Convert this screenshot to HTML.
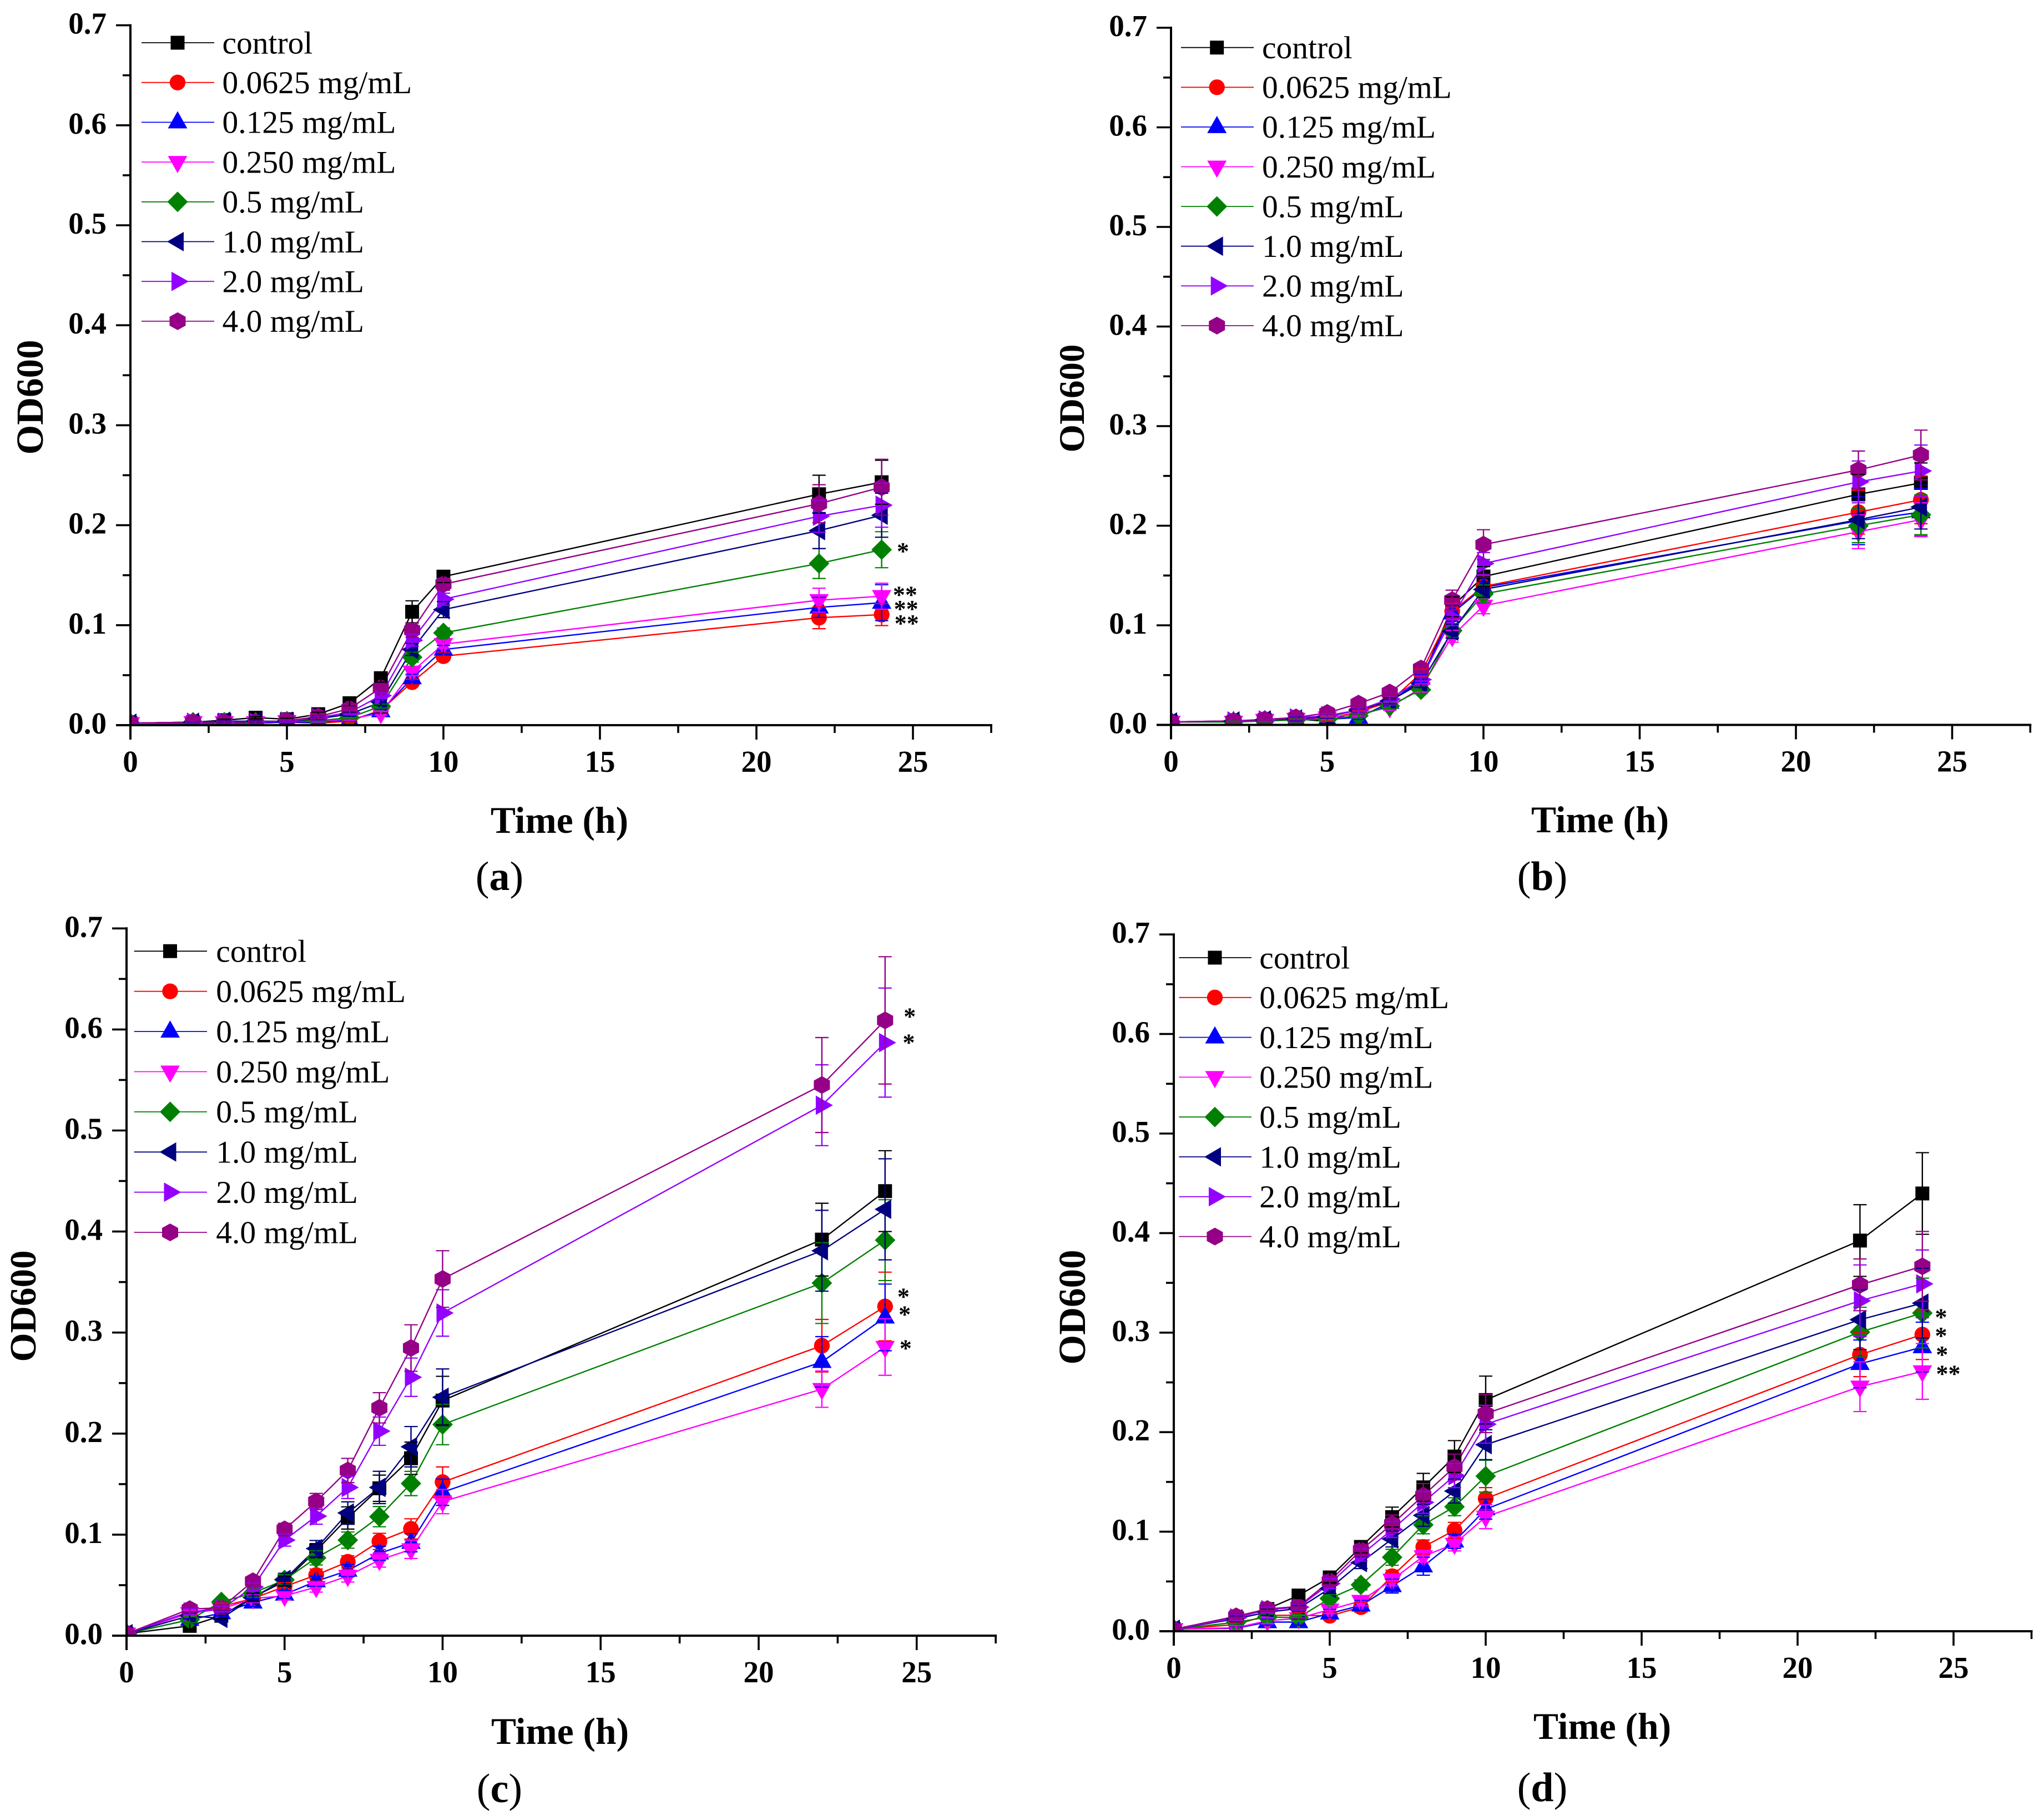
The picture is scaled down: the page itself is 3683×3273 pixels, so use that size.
<!DOCTYPE html>
<html lang="en">
<head>
<meta charset="utf-8">
<title>OD600 growth curves</title>
<style>
html,body{margin:0;padding:0;background:#fff;}
svg{display:block;}
text{font-family:"Liberation Serif",serif;fill:#000;}
</style>
</head>
<body>
<svg id="figure" xmlns="http://www.w3.org/2000/svg" width="3683" height="3273" viewBox="0 0 3683 3273">
<rect x="0" y="0" width="3683" height="3273" fill="#fff"></rect>
</svg>
<script>
const times = [0,2,3,4,5,6,7,8,9,10,22,24];
const seriesNames = ['control','0.0625 mg/mL','0.125 mg/mL','0.250 mg/mL','0.5 mg/mL','1.0 mg/mL','2.0 mg/mL','4.0 mg/mL'];
const xTicks = [0,5,10,15,20,25];
const xTickLabels = ['0','5','10','15','20','25'];
const xMinorTicks = [2.5,7.5,12.5,17.5,22.5,27.5];
const yTicks = [0,0.1,0.2,0.3,0.4,0.5,0.6,0.7];
const yTickLabels = ['0.0','0.1','0.2','0.3','0.4','0.5','0.6','0.7'];
const yMinorTicks = [0.05,0.15,0.25,0.35,0.45,0.55,0.65];

/* Panel (a) */
const aControl = [.002,.003,.005,.0075,.006,.011,.022,.047,.1134,.1486,.231,.243];
const aControlErr = [.001,.001,.001,.001,.001,.002,.003,.004,.011,.006,.019,.022];
const a0625 = [.002,.002,.002,.002,.003,.002,.004,.015,.043,.069,.1075,.1106];
const a0625Err = [.001,.001,.001,.001,.001,.001,.001,.002,.003,.004,.011,.011];
const a125 = [.002,.002,.002,.002,.003,.003,.005,.014,.047,.0757,.1178,.1225];
const a125Err = [.001,.001,.001,.001,.001,.001,.001,.002,.004,.004,.010,.018];
const a250 = [.002,.003,.003,.003,.004,.004,.006,.012,.0535,.081,.125,.129];
const a250Err = [.001,.001,.001,.001,.001,.001,.001,.002,.004,.004,.012,.013];
const a500 = [.002,.003,.003,.003,.004,.0045,.0075,.019,.068,.0923,.1617,.1755];
const a500Err = [.001,.001,.001,.001,.001,.001,.001,.002,.005,.005,.015,.018];
const a1000 = [.002,.003,.004,.004,.004,.0065,.011,.023,.0757,.1156,.1946,.21];
const a1000Err = [.001,.001,.001,.001,.001,.001,.002,.003,.006,.008,.018,.022];
const a2000 = [.002,.003,.003,.003,.004,.0075,.0127,.0296,.085,.126,.209,.22];
const a2000Err = [.001,.001,.001,.001,.001,.001,.002,.003,.006,.006,.016,.022];
const a4000 = [.002,.003,.003,.003,.0045,.0085,.0165,.0374,.095,.141,.2215,.238];
const a4000Err = [.001,.001,.001,.001,.001,.002,.002,.004,.007,.006,.019,.028];
const aStarLabels = ['*','**','**','**'];
const aStarTimes = [24.68,24.75,24.78,24.8];
const aStarValues = [.1775,.134,.120,.1055];

/* Panel (b) */
const bControl = [.003,.003,.005,.006,.0035,.0139,.024,.0436,.1186,.149,.2315,.243];
const bControlErr = [.001,.001,.001,.002,.002,.002,.003,.004,.010,.010,.020,.020];
const b0625 = [.003,.003,.005,.006,.0065,.013,.0232,.052,.114,.139,.2136,.226];
const b0625Err = [.001,.001,.001,.002,.002,.002,.003,.004,.008,.011,.022,.024];
const b125 = [.003,.003,.004,.005,.0056,.0074,.0223,.0465,.112,.138,.205,.2136];
const b125Err = [.001,.001,.001,.002,.002,.002,.003,.004,.008,.010,.024,.024];
const b250 = [.003,.003,.005,.006,.0074,.011,.0176,.037,.089,.1196,.194,.206];
const b250Err = [.001,.001,.001,.002,.002,.002,.003,.004,.006,.008,.017,.017];
const b500 = [.003,.003,.004,.005,.0056,.0093,.019,.0353,.0947,.1315,.2,.211];
const b500Err = [.001,.001,.001,.002,.002,.002,.003,.004,.007,.009,.017,.020];
const b1000 = [.003,.004,.005,.006,.0084,.0149,.024,.0418,.094,.136,.206,.2187];
const b1000Err = [.001,.001,.001,.002,.002,.002,.003,.004,.007,.008,.019,.022];
const b2000 = [.003,.004,.005,.007,.0093,.0149,.026,.0455,.1077,.162,.244,.255];
const b2000Err = [.001,.001,.001,.002,.002,.002,.003,.004,.008,.011,.021,.026];
const b4000 = [.003,.004,.0055,.0075,.012,.0214,.0325,.0566,.1253,.181,.256,.271];
const b4000Err = [.001,.001,.001,.002,.002,.003,.003,.004,.010,.015,.019,.025];
const bStarLabels = [];
const bStarTimes = [];
const bStarValues = [];

/* Panel (c) */
const cControl = [.002,.0097,.0197,.0381,.0539,.0841,.1165,.1459,.1756,.2327,.392,.44];
const cControlErr = [.001,.003,.003,.004,.005,.007,.011,.013,.016,.024,.036,.04];
const c0625 = [.002,.0223,.0289,.0368,.0486,.06,.0731,.0933,.1057,.152,.287,.3258];
const c0625Err = [.001,.003,.003,.004,.004,.006,.006,.008,.01,.015,.026,.034];
const c125 = [.002,.0158,.0223,.0329,.0407,.0539,.0644,.0815,.092,.142,.271,.315];
const c125Err = [.001,.003,.003,.004,.004,.005,.006,.007,.009,.013,.025,.033];
const c250 = [.002,.0223,.0263,.0368,.0394,.0481,.0591,.0749,.0854,.1327,.244,.2857];
const c250Err = [.001,.003,.003,.004,.004,.005,.006,.007,.009,.012,.018,.028];
const c500 = [.002,.0158,.0334,.0421,.0552,.077,.0946,.1178,.1506,.209,.349,.3915];
const c500Err = [.001,.003,.003,.004,.005,.007,.008,.01,.012,.02,.04,.04];
const c1000 = [.002,.0197,.0171,.0376,.0557,.0862,.1215,.1467,.187,.236,.381,.422];
const c1000Err = [.001,.003,.003,.004,.006,.008,.011,.016,.02,.028,.04,.05];
const c2000 = [.002,.0237,.0263,.0481,.0946,.1183,.1467,.2024,.2558,.3194,.525,.587];
const c2000Err = [.001,.003,.003,.004,.006,.008,.011,.014,.019,.023,.04,.054];
const c4000 = [.002,.0263,.0276,.0539,.1052,.1328,.1635,.2255,.2847,.353,.545,.609];
const c4000Err = [.001,.003,.003,.004,.006,.008,.012,.015,.023,.028,.047,.063];
const cStarLabels = ['*','*','*','*','*'];
const cStarTimes = [24.78,24.75,24.58,24.62,24.65];
const cStarValues = [.6165,.5905,.339,.3215,.288];

/* Panel (d) */
const dControl = [.002,.014,.0224,.0359,.0541,.0847,.1147,.1446,.1755,.2323,.3925,.4398];
const dControlErr = [.001,.003,.003,.003,.005,.006,.01,.014,.016,.024,.036,.041];
const d0625 = [.002,.0067,.016,.016,.0155,.0242,.0553,.0847,.1014,.1333,.2778,.298];
const d0625Err = [.001,.002,.003,.003,.004,.005,.006,.007,.008,.011,.022,.025];
const d125 = [.002,.003,.0092,.0092,.0179,.0259,.0454,.0653,.0902,.1226,.2686,.2855];
const d125Err = [.001,.002,.003,.003,.004,.005,.007,.009,.007,.01,.024,.025];
const d250 = [.002,.0035,.0105,.013,.0217,.0304,.0516,.0753,.0877,.115,.2457,.261];
const d250Err = [.001,.002,.003,.003,.004,.005,.006,.006,.007,.012,.025,.028];
const d500 = [.002,.009,.0142,.0137,.0329,.0466,.0743,.1069,.1251,.1558,.3005,.3197];
const d500Err = [.001,.002,.003,.003,.004,.005,.008,.009,.009,.016,.025,.035];
const d1000 = [.002,.0125,.0192,.0229,.0429,.069,.0927,.1164,.1408,.1874,.313,.3296];
const d1000Err = [.001,.003,.003,.003,.005,.006,.008,.011,.012,.015,.03,.035];
const d2000 = [.002,.0135,.0217,.0242,.0479,.0765,.1022,.1294,.1563,.208,.332,.349];
const d2000Err = [.001,.003,.003,.003,.005,.006,.008,.011,.012,.019,.036,.034];
const d4000 = [.002,.015,.0224,.0249,.0503,.0815,.1077,.1363,.165,.2186,.348,.3666];
const d4000Err = [.001,.003,.003,.003,.005,.006,.009,.012,.013,.019,.026,.035];
const dStarLabels = ['*','*','*','**'];
const dStarTimes = [24.6,24.6,24.63,24.83];
const dStarValues = [.319,.3004,.2814,.2624];

/* Styling, separate from the data */
const seriesColors = ['#000000','#ff0000','#0000ff','#ff00ff','#008000','#000080','#9400ff','#950086'];
const seriesShapes = ['square','circle','up','down','diamond','left','right','hexagon'];
const seriesSlugs = ['control','0-0625','0-125','0-250','0-5','1-0','2-0','4-0'];
const NS = 'http://www.w3.org/2000/svg';
const figure = document.getElementById('figure');
const X_MAX = 27.5;
const Y_MAX = 0.7;

const panels = [
  {id:'a',x0:235,xu:56.4,y0:1307,yu:1802,lx1:255,lx2:386,mx:320,tx:400.5,ry:77,rs:71.7,odX:77,odY:716,odS:69,timeX:1008,timeY:1501,capX:900,capY:1604,
   vals:[aControl,a0625,a125,a250,a500,a1000,a2000,a4000],errs:[aControlErr,a0625Err,a125Err,a250Err,a500Err,a1000Err,a2000Err,a4000Err],
   starL:aStarLabels,starT:aStarTimes,starV:aStarValues},
  {id:'b',x0:2110,xu:56.3,y0:1306.5,yu:1795,lx1:2128,lx2:2259,mx:2192.7,tx:2274,ry:85.7,rs:71.6,odX:1953,odY:718,odS:65,timeX:2883,timeY:1500,capX:2779,capY:1604,
   vals:[bControl,b0625,b125,b250,b500,b1000,b2000,b4000],errs:[bControlErr,b0625Err,b125Err,b250Err,b500Err,b1000Err,b2000Err,b4000Err],
   starL:bStarLabels,starT:bStarTimes,starV:bStarValues},
  {id:'c',x0:228,xu:56.95,y0:2948,yu:1821,lx1:241.7,lx2:373,mx:306.5,tx:389.3,ry:1714.3,rs:72.4,odX:64,odY:2354,odS:67,timeX:1009,timeY:3143,capX:900,capY:3248,
   vals:[cControl,c0625,c125,c250,c500,c1000,c2000,c4000],errs:[cControlErr,c0625Err,c125Err,c250Err,c500Err,c1000Err,c2000Err,c4000Err],
   starL:cStarLabels,starT:cStarTimes,starV:cStarValues},
  {id:'d',x0:2115,xu:56.2,y0:2940,yu:1794,lx1:2124.3,lx2:2255,mx:2189,tx:2269.3,ry:1726,rs:71.8,odX:1955,odY:2356,odS:69,timeX:2887,timeY:3134,capX:2779,capY:3246,
   vals:[dControl,d0625,d125,d250,d500,d1000,d2000,d4000],errs:[dControlErr,d0625Err,d125Err,d250Err,d500Err,d1000Err,d2000Err,d4000Err],
   starL:dStarLabels,starT:dStarTimes,starV:dStarValues}
];

function make(tag, parent){
  const el = document.createElementNS(NS, tag);
  parent.appendChild(el);
  return el;
}
function seg(parent, x1, y1, x2, y2, color, width){
  const el = make('line', parent);
  el.setAttribute('x1', x1);
  el.setAttribute('y1', y1);
  el.setAttribute('x2', x2);
  el.setAttribute('y2', y2);
  el.setAttribute('stroke', color);
  el.setAttribute('stroke-width', width);
  return el;
}
function label(parent, x, y, str, size, weight, anchor){
  const el = make('text', parent);
  el.setAttribute('x', x);
  el.setAttribute('y', y);
  el.setAttribute('font-size', size);
  el.setAttribute('font-weight', weight);
  el.setAttribute('text-anchor', anchor);
  el.textContent = str;
  return el;
}
function poly(parent, cx, cy, pts, color){
  const el = make('polygon', parent);
  el.setAttribute('points', pts.map(function(p){return (cx+p[0])+','+(cy+p[1]);}).join(' '));
  el.setAttribute('fill', color);
  return el;
}
function marker(parent, shape, cx, cy, color){
  if(shape === 'square') return poly(parent, cx, cy, [[-12.5,-12.5],[12.5,-12.5],[12.5,12.5],[-12.5,12.5]], color);
  if(shape === 'circle'){
    const el = make('circle', parent);
    el.setAttribute('cx', cx);
    el.setAttribute('cy', cy);
    el.setAttribute('r', 14.2);
    el.setAttribute('fill', color);
    return el;
  }
  if(shape === 'up') return poly(parent, cx, cy, [[0,-20],[17.5,11],[-17.5,11]], color);
  if(shape === 'down') return poly(parent, cx, cy, [[-17.5,-11],[17.5,-11],[0,20]], color);
  if(shape === 'diamond') return poly(parent, cx, cy, [[0,-18.5],[18.5,0],[0,18.5],[-18.5,0]], color);
  if(shape === 'left') return poly(parent, cx, cy, [[-19,0],[11,-17.5],[11,17.5]], color);
  if(shape === 'right') return poly(parent, cx, cy, [[-11,-17.5],[20,0],[-11,17.5]], color);
  return poly(parent, cx, cy, [[0,-16],[14.5,-8],[14.5,8],[0,16],[-14.5,8],[-14.5,-8]], color);
}

panels.forEach(function(p){
  const xScale = function(t){ return p.x0 + t * p.xu; };
  const yScale = function(v){ return p.y0 - v * p.yu; };

  const g = make('g', figure);
  
  

  const clip = make('clipPath', g);
  clip.setAttribute('id', 'clip-' + p.id);
  const clipRect = make('rect', clip);
  clipRect.setAttribute('x', xScale(0));
  clipRect.setAttribute('y', yScale(Y_MAX));
  clipRect.setAttribute('width', xScale(X_MAX) - xScale(0));
  clipRect.setAttribute('height', yScale(0) - yScale(Y_MAX));

  const plot = make('g', g);
  plot.setAttribute('clip-path', 'url(#clip-' + p.id + ')');
  
  

  p.vals.forEach(function(vals, i){
    const line = make('polyline', plot);
    
    
    line.setAttribute('points', times.map(function(t, k){ return xScale(t) + ',' + yScale(vals[k]); }).join(' '));
    line.setAttribute('fill', 'none');
    line.setAttribute('stroke', seriesColors[i]);
    line.setAttribute('stroke-width', 2.4);
  });

  p.vals.forEach(function(vals, i){
    times.forEach(function(t, k){
      const m = marker(plot, seriesShapes[i], xScale(t), yScale(vals[k]), seriesColors[i]);
      
      
    });
  });

  p.errs.forEach(function(errs, i){
    const eg = make('g', plot);
    
    
    times.forEach(function(t, k){
      const v = p.vals[i][k];
      const x = xScale(t);
      const top = yScale(v + errs[k]);
      const bot = yScale(v - errs[k]);
      seg(eg, x, top, x, bot, seriesColors[i], 2.4);
      seg(eg, x - 12, top, x + 12, top, seriesColors[i], 2.2);
      seg(eg, x - 12, bot, x + 12, bot, seriesColors[i], 2.2);
    });
  });

  const yAxis = make('g', g);
  
  
  seg(yAxis, p.x0, yScale(Y_MAX) - 2, p.x0, p.y0 + 26, '#000', 4);
  yTicks.forEach(function(v, i){
    seg(yAxis, p.x0 - 26, yScale(v), p.x0, yScale(v), '#000', 3.6);
    const t = label(yAxis, p.x0 - 43, yScale(v) + 15, yTickLabels[i], 55, 'bold', 'end');
    
    
  });
  yMinorTicks.forEach(function(v){
    seg(yAxis, p.x0 - 14, yScale(v), p.x0, yScale(v), '#000', 3.6);
  });

  const xAxis = make('g', g);
  
  
  seg(xAxis, p.x0 - 26, p.y0, xScale(X_MAX) + 2, p.y0, '#000', 4);
  xTicks.forEach(function(v, i){
    seg(xAxis, xScale(v), p.y0, xScale(v), p.y0 + 26, '#000', 3.6);
    const t = label(xAxis, xScale(v), p.y0 + 84, xTickLabels[i], 55, 'bold', 'middle');
    
    
  });
  xMinorTicks.forEach(function(v){
    seg(xAxis, xScale(v), p.y0, xScale(v), p.y0 + 14, '#000', 3.6);
  });

  const od = label(g, 0, 0, 'OD600', p.odS, 'bold', 'middle');
  od.setAttribute('transform', 'translate(' + p.odX + ',' + p.odY + ') rotate(-90)');
  
  

  const time = label(g, p.timeX, p.timeY, 'Time (h)', 67.5, 'bold', 'middle');
  
  

  const cap = make('text', g);
  cap.setAttribute('x', p.capX);
  cap.setAttribute('y', p.capY);
  cap.setAttribute('font-size', 74);
  cap.setAttribute('text-anchor', 'middle');
  
  
  cap.appendChild(document.createTextNode('('));
  const capLetter = make('tspan', cap);
  capLetter.setAttribute('font-weight', 'bold');
  capLetter.textContent = p.id;
  cap.appendChild(document.createTextNode(')'));

  const legend = make('g', g);
  
  
  seriesNames.forEach(function(name, i){
    const y = p.ry + i * p.rs;
    const entry = make('g', legend);
    
    
    seg(entry, p.lx1, y, p.lx2, y, seriesColors[i], 1.8);
    marker(entry, seriesShapes[i], p.mx, y, seriesColors[i]);
    label(entry, p.tx, y + 19.3, name, 57.5, 'normal', 'start');
  });

  p.starL.forEach(function(str, i){
    const s = label(g, xScale(p.starT[i]), yScale(p.starV[i]) + 21, str, 44, 'bold', 'middle');
    
    
  });
});
</script>
</body>
</html>
